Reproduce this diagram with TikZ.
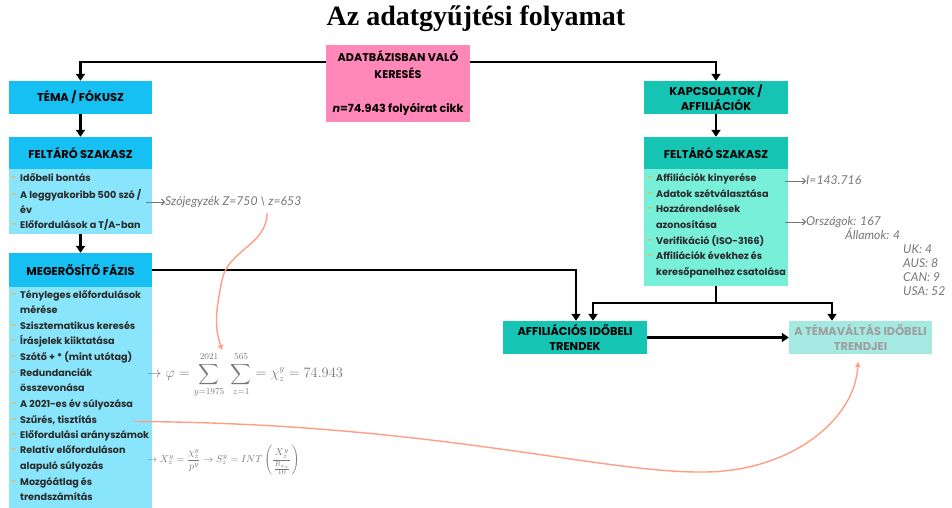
\documentclass[tikz,border=0pt]{standalone}
\usepackage{amsmath}
\usepackage{fontspec}
\setmainfont{Poppins}
\newfontfamily\annfont{Lato}
\newfontfamily\titlefont{Liberation Serif}
\usetikzlibrary{arrows.meta}
\definecolor{cyanH}{HTML}{17C0F2}
\definecolor{cyanB}{HTML}{88E5FB}
\definecolor{tealH}{HTML}{16C4B4}
\definecolor{tealB}{HTML}{77EFD9}
\definecolor{tealP}{HTML}{A4E9E2}
\definecolor{pinkB}{HTML}{FF88B9}
\definecolor{orangeC}{HTML}{FF9E85}
\definecolor{bulC}{HTML}{F5B547}
\definecolor{annC}{HTML}{777777}
\definecolor{itemC}{HTML}{2A2A2A}
\tikzset{
  box/.style={inner sep=0pt, align=center, font=\fontsize{11.4}{15.5}\selectfont\bfseries},
  item/.style={anchor=west, inner sep=0pt, text height=7pt, text depth=2pt, font=\fontsize{9.6}{12}\selectfont\bfseries, text=itemC},
  bul/.style={anchor=center, inner sep=0pt, text=bulC, font=\fontsize{9}{10}\selectfont\bfseries},
  ann/.style={anchor=west, inner sep=0pt, text height=8pt, text depth=2pt, font=\annfont\fontsize{12.2}{13}\selectfont\itshape, text=annC},
  conn/.style={line width=2.4pt, -{Triangle[length=7pt,width=9pt]}},
  plain/.style={line width=2.4pt},
  garr/.style={line width=1pt, draw=annC, -{Straight Barb[length=3pt,width=6pt]}},
  ocurve/.style={line width=1.4pt, draw=orangeC, -{Triangle[length=5pt,width=5pt]}}
}
\begin{document}
\begin{tikzpicture}[x=1pt,y=-1pt]
\useasboundingbox (0,0) rectangle (952,508);
\fill[white] (0,0) rectangle (952,508);
% title
\node[inner sep=0pt, font=\titlefont\fontsize{28}{30}\selectfont\bfseries] (title) at (476,19) {Az adatgyűjtési folyamat};
% pink
\node[box, fill=pinkB, minimum width=144pt, minimum height=77pt, font=\fontsize{11.2}{17}\selectfont\bfseries] (db) at (398,83.5) {ADATBÁZISBAN VALÓ\\KERESÉS\\[17pt]\textit{n}=74.943 folyóirat cikk};
% left column
\node[box, fill=cyanH, minimum width=143pt, minimum height=33pt] (tema) at (80.5,97.5) {TÉMA / FÓKUSZ};
\node[box, fill=cyanH, minimum width=143pt, minimum height=32pt] (felL) at (80.5,153) {FELTÁRÓ SZAKASZ};
\node[box, fill=cyanB, minimum width=143pt, minimum height=65pt] (felLb) at (80.5,201.5) {};
\node[box, fill=cyanH, minimum width=143pt, minimum height=34pt] (meg) at (80.5,270) {MEGERŐSÍTŐ FÁZIS};
\node[box, fill=cyanB, minimum width=143pt, minimum height=222pt] (megb) at (80.5,398) {};
% right column
\node[box, fill=tealH, minimum width=144pt, minimum height=33pt] (kap) at (716,97.5) {KAPCSOLATOK /\\AFFILIÁCIÓK};
\node[box, fill=tealH, minimum width=144pt, minimum height=32pt] (felR) at (716,153) {FELTÁRÓ SZAKASZ};
\node[box, fill=tealB, minimum width=144pt, minimum height=117pt] (felRb) at (716,227.5) {};
\node[box, fill=tealH, minimum width=144pt, minimum height=33pt] (aff) at (575,337.5) {AFFILIÁCIÓS IDŐBELI\\TRENDEK};
\node[box, fill=tealP, minimum width=143pt, minimum height=33pt, text=black!38] (tv) at (860.5,337.5) {A TÉMAVÁLTÁS IDŐBELI\\TRENDJEI};
% left items
\foreach \yy/\tx in {179/{Időbeli bontás}, 196/{A leggyakoribb 500 szó /}, 211/{év}, 226/{Előfordulások a T/A-ban},
  296/{Tényleges előfordulások}, 311/{mérése}, 327/{Szisztematikus keresés}, 342/{Írásjelek kiiktatása},
  358/{Szótő + * (mint utótag)}, 374/{Redundanciák}, 389/{összevonása}, 405/{A 2021-es év súlyozása},
  421/{Szűrés, tisztítás}, 436/{Előfordulási arányszámok}, 451/{Relatív előforduláson}, 467/{alapuló súlyozás},
  483/{Mozgóátlag és}, 498/{trendszámítás}}
  \node[item] (L\yy) at (20,\yy) {\tx};
\foreach \yy in {179,196,226,296,327,342,358,374,405,421,436,451,483}
  \node[bul] (bL\yy) at (14,\yy) {-};
% right items
\foreach \yy/\tx in {179/{Affiliációk kinyerése}, 195/{Adatok szétválasztása}, 210/{Hozzárendelések}, 226/{azonosítása},
  242/{Verifikáció (ISO-3166)}, 257/{Affiliációk évekhez és}, 273/{keresőpanelhez csatolása}}
  \node[item] (R\yy) at (656,\yy) {\tx};
\foreach \yy in {179,195,210,242,257}
  \node[bul] (bR\yy) at (650,\yy) {-};
% connectors
\draw[conn] (db.west |- 0,62) -| (tema.north);
\draw[conn] (db.east |- 0,62) -| (kap.north);
\draw[conn] (tema.south) -- (felL.north);
\draw[conn] (felLb.south) -- (meg.north);
\draw[conn] (kap.south) -- (felR.north);
\draw[conn] (meg.east) -| ([xshift=1pt]aff.north);
\coordinate (jn) at (felRb.south |- 0,303);
\draw[plain] (felRb.south) -- (jn);
\draw[conn] (jn) -| ([xshift=18pt]aff.north);
\draw[conn] (jn) -| ([xshift=-28.5pt]tv.north);
\draw[conn] (aff.east) -- (tv.west);
% annotations
\node[ann] (szo) at (165,202) {Szójegyzék Z=750 \textbackslash{} z=653};
\draw[garr] (146,202) -- (szo.west);
\node[ann] (ia) at (806,181) {I=143.716};
\draw[garr] ([xshift=-3pt]felRb.east |- ia.west) -- (ia.west);
\node[ann] (orsz) at (806,222) {Országok: 167};
\draw[garr] ([xshift=-3pt]felRb.east |- orsz.west) -- (orsz.west);
\node[ann] (all) at (845,236) {Államok: 4};
\node[ann] (uk) at (903,250) {UK: 4};
\node[ann] (aus) at (903,264) {AUS: 8};
\node[ann] (can) at (903,278) {CAN: 9};
\node[ann] (usa) at (903,292) {USA: 52};
% formulas
\node[anchor=west, inner sep=0pt, text=annC, font=\fontsize{13.4}{15}\selectfont] (f1) at (147,375)
  {$\rightarrow \varphi = \displaystyle\sum_{y=1975}^{2021}\;\sum_{z=1}^{565} = \chi_z^y = 74.943$};
\node[anchor=west, inner sep=0pt, text=annC, font=\fontsize{10.2}{12}\selectfont] (f2) at (147,460)
  {$\rightarrow X_z^y = \dfrac{\chi_z^y}{p^y} \rightarrow S_z^y = INT\left(\dfrac{X_z^y}{\rule{0pt}{9pt}\frac{R_{x_z}}{10}}\right)$};
% orange curves
\coordinate (c1s) at (267,213);
\coordinate (c1e) at (222,350);
\draw[ocurve] (c1s) .. controls (267,245) and (228,250) .. (222,280) .. controls (216,310) and (214,325) .. (c1e);
\coordinate (c2s) at (134,421.5);
\coordinate (c2e) at (858,362);
\draw[ocurve] (c2s) .. controls (430,423) and (600,473) .. (703,472) .. controls (790,472) and (855,420) .. (c2e);
\end{tikzpicture}
\end{document}
